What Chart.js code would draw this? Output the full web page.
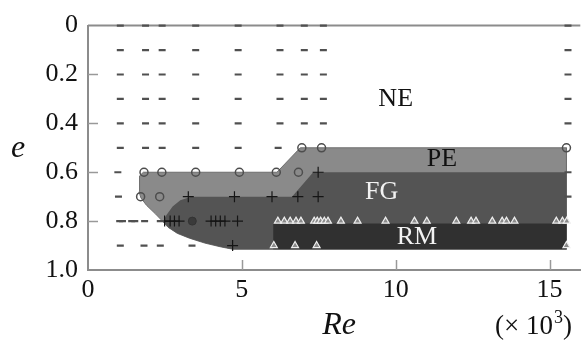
<!DOCTYPE html>
<html>
<head>
<meta charset="utf-8">
<script src="https://cdn.jsdelivr.net/npm/chart.js@4.4.1/dist/chart.umd.min.js"></script>
<style>
  body { margin: 0; background: #fff; }
  canvas { display: block; }
</style>
</head>
<body>
<canvas id="chart" width="587" height="340"></canvas>
<script>
// axes
const xTicks = [0, 5, 10, 15];
const yTicks = [0, 0.2, 0.4, 0.6, 0.8, 1.0];
const yTickLabels = ['0', '0.2', '0.4', '0.6', '0.8', '1.0'];

// NE (dashes): full grid rows plus the odd ones
const neRe = [1.05, 1.87, 2.41, 3.5, 4.88, 6.24, 7.03, 7.65, 15.6];
const neE = [0, 0.1, 0.2, 0.3, 0.4];
const neExtra = [
  [1.05, 0.5], [1.87, 0.5], [2.41, 0.5], [3.5, 0.5], [4.88, 0.5], [6.18, 0.5],
  [0.97, 0.6], [0.99, 0.7],
  [1.03, 0.8], [1.12, 0.8], [1.42, 0.8], [1.52, 0.8], [1.84, 0.8], [2.35, 0.8],
  [1.05, 0.9], [1.82, 0.9], [2.35, 0.9], [3.38, 0.9],
  [15.6, 0.6], [15.6, 0.7]
];

// PE (open circles)
const peCircles = [
  [6.95, 0.5], [7.59, 0.5], [15.55, 0.5],
  [1.82, 0.6], [2.4, 0.6], [3.5, 0.6], [4.92, 0.6], [6.12, 0.6], [6.84, 0.6],
  [1.71, 0.7], [2.33, 0.7]
];

// FG (crosses) and the one filled circle
const fgCrosses = [
  [7.48, 0.6],
  [3.26, 0.7], [4.76, 0.7], [5.98, 0.7], [6.82, 0.7], [7.48, 0.7],
  [2.49, 0.8], [2.67, 0.8], [2.81, 0.8], [2.96, 0.8],
  [4.0, 0.8], [4.15, 0.8], [4.3, 0.8], [4.45, 0.8], [4.86, 0.8],
  [4.7, 0.9]
];
const filledDots = [[3.39, 0.8]];

// RM (triangles)
const rmRe08 = [6.17, 6.38, 6.57, 6.76, 6.92, 7.35, 7.45, 7.56, 7.68, 7.8, 8.22, 8.76, 9.67,
  10.61, 11.01, 11.97, 12.45, 12.61, 13.14, 13.46, 13.6, 13.86, 15.22, 15.42, 15.56];
const rmRe09 = [6.04, 6.73, 7.43, 15.55];

// regime boundaries (Re, e)
const peRegion = [[1.8, 0.6], [6.14, 0.6], [6.9, 0.5], [15.55, 0.5], [15.55, 0.915], [4.7, 0.915],
  [4.3, 0.905], [3.8, 0.89], [3.3, 0.87], [2.9, 0.85], [2.6, 0.825], [2.42, 0.8], [2.19, 0.77],
  [1.9, 0.735], [1.72, 0.705], [1.66, 0.68], [1.66, 0.64], [1.69, 0.615], [1.8, 0.6]];
const fgRegion = [[3.35, 0.7], [6.63, 0.7], [7.32, 0.6], [15.55, 0.6], [15.55, 0.915], [4.7, 0.915],
  [4.3, 0.905], [3.8, 0.89], [3.3, 0.87], [2.9, 0.85], [2.6, 0.825], [2.45, 0.8], [2.55, 0.775],
  [2.75, 0.74], [3.0, 0.715], [3.35, 0.7]];
const rmRegion = [[6.02, 0.81], [15.55, 0.81], [15.55, 0.915], [6.02, 0.915], [6.02, 0.81]];

// region names
const regionNames = ['NE', 'PE', 'FG', 'RM'];
const regionRe = [10.0, 11.5, 9.54, 10.69];
const regionE = [0.3, 0.545, 0.68, 0.865];
const regionColors = ['#111', '#111', '#f2f2f2', '#f2f2f2'];

const serif = "'Liberation Serif', 'Times New Roman', serif";
const pts = arr => arr.map(p => ({ x: p[0], y: p[1] }));

const neData = [];
neE.forEach(e => neRe.forEach(r => neData.push({ x: r, y: e })));
pts(neExtra).forEach(p => neData.push(p));

const region = (data, color, border, order) => ({
  data: pts(data),
  showLine: true,
  fill: 'shape',
  backgroundColor: color,
  borderColor: border,
  borderWidth: border ? 1 : 0,
  pointRadius: 0,
  tension: 0,
  order
});

const decor = {
  id: 'decor',
  beforeDatasetsDraw(chart) {
    const { ctx, chartArea: a, scales: { x, y } } = chart;
    ctx.save();
    ctx.strokeStyle = '#8c8c8c';
    ctx.lineWidth = 2;
    ctx.beginPath();
    ctx.moveTo(a.left, a.top);
    ctx.lineTo(a.right, a.top);
    ctx.stroke();
    ctx.lineWidth = 1.5;
    ctx.strokeStyle = '#999';
    yTicks.slice(1, -1).forEach(v => {
      const py = Math.round(y.getPixelForValue(v)) + 0.5;
      ctx.beginPath();
      ctx.moveTo(a.left, py);
      ctx.lineTo(a.left + 10, py);
      ctx.stroke();
    });
    xTicks.slice(1).forEach(v => {
      const px = Math.round(x.getPixelForValue(v)) + 0.5;
      ctx.beginPath();
      ctx.moveTo(px, a.bottom);
      ctx.lineTo(px, a.bottom - 10);
      ctx.stroke();
    });
    ctx.restore();
  },
  afterDatasetsDraw(chart) {
    const { ctx, scales: { x, y } } = chart;
    ctx.save();
    ctx.font = `26px ${serif}`;
    ctx.textAlign = 'center';
    ctx.textBaseline = 'middle';
    regionNames.forEach((name, i) => {
      ctx.fillStyle = regionColors[i];
      ctx.fillText(name, x.getPixelForValue(regionRe[i]), y.getPixelForValue(regionE[i]));
    });
    ctx.restore();
  },
  afterDraw(chart) {
    const { ctx, chartArea: a } = chart;
    ctx.save();
    ctx.fillStyle = '#111';
    ctx.textBaseline = 'alphabetic';
    ctx.textAlign = 'center';
    ctx.font = `italic 32px ${serif}`;
    ctx.fillText('e', 18, (a.top + a.bottom) / 2 + 9);
    ctx.fillText('Re', 339, 334);
    // (x 10^3)
    ctx.textAlign = 'left';
    ctx.font = `27px ${serif}`;
    let px = 495;
    ctx.fillText('(\u00d7 10', px, 334);
    px += ctx.measureText('(\u00d7 10').width;
    ctx.font = `18px ${serif}`;
    ctx.fillText('3', px + 1, 323);
    px += ctx.measureText('3').width + 1;
    ctx.font = `27px ${serif}`;
    ctx.fillText(')', px, 334);
    ctx.restore();
  }
};

new Chart(document.getElementById('chart'), {
  type: 'scatter',
  data: {
    datasets: [
      {
        data: neData, pointStyle: 'line', pointRadius: 3.5, borderWidth: 2.2,
        borderColor: '#505050', clip: 12, order: 0
      },
      {
        data: pts(peCircles), pointStyle: 'circle', pointRadius: 4, borderWidth: 1.5,
        borderColor: '#4d4d4d', backgroundColor: 'rgba(0,0,0,0)', clip: 12, order: 0
      },
      {
        data: pts(fgCrosses), pointStyle: 'cross', pointRadius: 5.5, borderWidth: 1.2,
        borderColor: '#151515', clip: 12, order: 0
      },
      {
        data: pts(filledDots), pointStyle: 'circle', pointRadius: 4, borderWidth: 1,
        borderColor: '#333', backgroundColor: '#3a3a3a', clip: 12, order: 0
      },
      {
        data: rmRe08.map(r => ({ x: r, y: 0.8 })).concat(rmRe09.map(r => ({ x: r, y: 0.9 }))),
        pointStyle: 'triangle', pointRadius: 4, borderWidth: 1.2,
        borderColor: '#eeeeee', backgroundColor: '#8a8a8a', clip: 12, order: 0
      },
      region(rmRegion, '#303030', null, 1),
      region(fgRegion, '#545454', null, 2),
      region(peRegion, '#8a8a8a', '#6e6e6e', 3)
    ]
  },
  options: {
    responsive: false,
    animation: false,
    events: [],
    layout: { padding: { top: 22, right: 0, left: 0, bottom: 0 } },
    plugins: { legend: { display: false }, tooltip: { enabled: false } },
    scales: {
      x: {
        type: 'linear', min: 0, max: 16,
        afterBuildTicks: s => { s.ticks = xTicks.map(v => ({ value: v })); },
        afterFit: s => { s.height = 70; },
        grid: { drawOnChartArea: false, drawTicks: false },
        border: { color: '#8c8c8c', width: 2 },
        ticks: { font: { family: serif, size: 26 }, color: '#111', padding: 5, maxRotation: 0, autoSkip: false }
      },
      y: {
        type: 'linear', min: 0, max: 1, reverse: true,
        afterBuildTicks: s => { s.ticks = yTicks.map(v => ({ value: v })); },
        afterFit: s => { s.width = 88; },
        grid: { drawOnChartArea: false, drawTicks: false },
        border: { color: '#8c8c8c', width: 2 },
        ticks: {
          font: { family: serif, size: 26 }, color: '#111', padding: 10, autoSkip: false,
          callback: (v, i) => yTickLabels[i]
        }
      }
    }
  },
  plugins: [decor]
});
</script>
</body>
</html>
